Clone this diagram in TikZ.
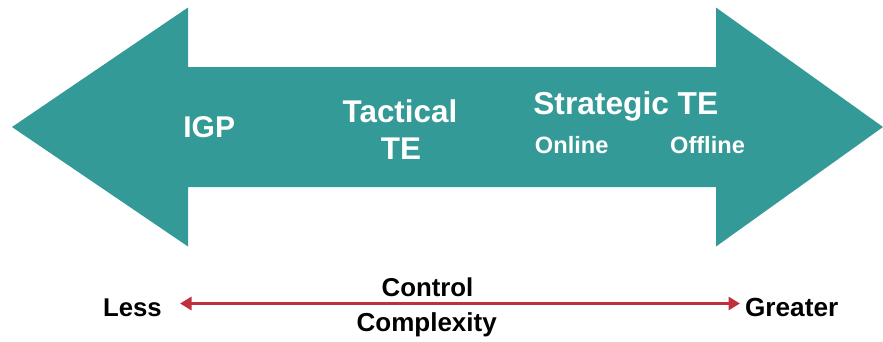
\documentclass[tikz,border=0pt]{standalone}
\usepackage{fontspec}
\setmainfont{Liberation Sans}
\usetikzlibrary{arrows.meta}
\definecolor{teal1}{HTML}{349A98}
\definecolor{red1}{HTML}{C0303C}
\tikzset{
  lbl/.style={anchor=base, inner sep=0pt, font=\bfseries\fontsize{#1}{#1}\selectfont},
  wlbl/.style={lbl=#1, text=white},
  blbl/.style={lbl=#1, text=black},
  scale axis/.style={draw=red1, line width=3pt, {Triangle[length=11.5pt,width=13pt]}-{Triangle[length=11.5pt,width=13pt]}}
}
\begin{document}
\begin{tikzpicture}[x=1pt,y=-1pt]
\useasboundingbox (0,0) rectangle (883,341);
% big double arrow
\fill[teal1] (12,127) -- (188,7.5) -- (188,67) -- (716,67) -- (716,7.5) -- (883,127)
  -- (716,246.5) -- (716,187) -- (188,187) -- (188,246.5) -- cycle;
% labels on the arrow
\node[wlbl=30] (igp) at (209.2,137.3) {IGP};
\node[wlbl=31.4] (tact) at (400,122.7) {Tactical};
\node[wlbl=31.4] (tactte) at (401,159.3) {TE};
\node[wlbl=31.7] (strat) at (625.8,114.3) {Strategic TE};
\node[wlbl=23.6] (online) at (571.7,153.3) {Online};
\node[wlbl=23.6] (offline) at (707.5,153.3) {Offline};
% bottom scale
\node[blbl=25.7] (less) at (132.5,316.7) {Less};
\node[blbl=26.2] (greater) at (791.7,316.7) {Greater};
\node[blbl=25.8] (control) at (427.5,296.7) {Control};
\node[blbl=26] (complexity) at (426.7,331.3) {Complexity};
\coordinate (lt) at (180,303.5);
\coordinate (rt) at (740,303.5);
\draw[scale axis] (lt) -- (rt);
\end{tikzpicture}
\end{document}
